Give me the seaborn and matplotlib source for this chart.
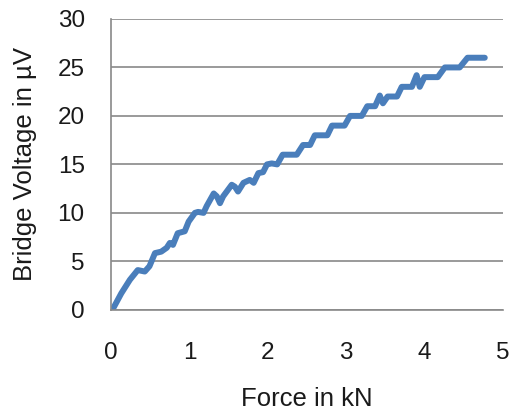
import matplotlib
matplotlib.use('Agg')
import pandas as pd
import seaborn as sns
import matplotlib.pyplot as plt

# Force (kN) and bridge voltage (uV)
force = [0.03, 0.13, 0.24, 0.34, 0.43, 0.49, 0.56, 0.64, 0.71, 0.75, 0.79,
         0.85, 0.94, 0.99, 1.07, 1.11, 1.18, 1.22, 1.31, 1.35, 1.39, 1.43,
         1.54, 1.58, 1.62, 1.69, 1.77, 1.82, 1.88, 1.94, 1.99, 2.05, 2.12,
         2.19, 2.37, 2.45, 2.54, 2.60, 2.76, 2.82, 2.98, 3.05, 3.20, 3.27,
         3.37, 3.43, 3.47, 3.53, 3.65, 3.71, 3.84, 3.90, 3.94, 4.00, 4.17,
         4.26, 4.45, 4.55, 4.77]
voltage = [0.2, 1.7, 3.1, 4.1, 3.95, 4.5, 5.85, 6.0, 6.4, 6.9, 6.7,
           7.9, 8.1, 9.1, 10.0, 10.1, 10.0, 10.7, 12.0, 11.7, 11.0, 11.7,
           12.9, 12.7, 12.2, 13.1, 13.4, 13.1, 14.1, 14.2, 15.0, 15.1, 15.0,
           16.0, 16.0, 17.0, 17.0, 18.0, 18.0, 19.0, 19.0, 20.0, 20.0, 21.0,
           21.0, 22.1, 21.3, 22.0, 22.0, 23.0, 23.0, 24.2, 23.0, 24.0, 24.0,
           25.0, 25.0, 26.0, 26.0]

x_ticks = [0, 1, 2, 3, 4, 5]
y_ticks = [0, 5, 10, 15, 20, 25, 30]

df = pd.DataFrame({'Force': force, 'Voltage': voltage})

sns.set_theme(style='white')
plt.rcParams['font.family'] = ['Liberation Sans', 'DejaVu Sans']

fig = plt.figure(figsize=(5.12, 4.12), dpi=100)
ax = fig.add_axes([0.217, 0.248, 0.765, 0.706])

sns.lineplot(data=df, x='Force', y='Voltage', sort=False, estimator=None,
             color='#4a7ebb', linewidth=4.3, ax=ax)
ax.lines[0].set_solid_joinstyle('round')
ax.lines[0].set_solid_capstyle('round')

ax.set_xlim(0, 5)
ax.set_ylim(0, 30)
ax.set_xticks(x_ticks)
ax.set_yticks(y_ticks)
ax.yaxis.grid(True, color='#898989', linewidth=1.2)
ax.set_axisbelow(True)
for side in ['top', 'right']:
    ax.spines[side].set_visible(False)
for side in ['left', 'bottom']:
    ax.spines[side].set_color('#898989')
    ax.spines[side].set_linewidth(1.2)
ax.tick_params(axis='both', length=0, labelsize=17.5, colors='#1a1a1a')
ax.tick_params(axis='x', pad=23)
ax.tick_params(axis='y', pad=19)

ax.set_xlabel('Force in kN', fontsize=18.5, color='#1a1a1a', labelpad=17)
ax.set_ylabel('Bridge Voltage in µV', fontsize=18.5, color='#1a1a1a', labelpad=15)

fig.savefig('out.png', dpi=100)
